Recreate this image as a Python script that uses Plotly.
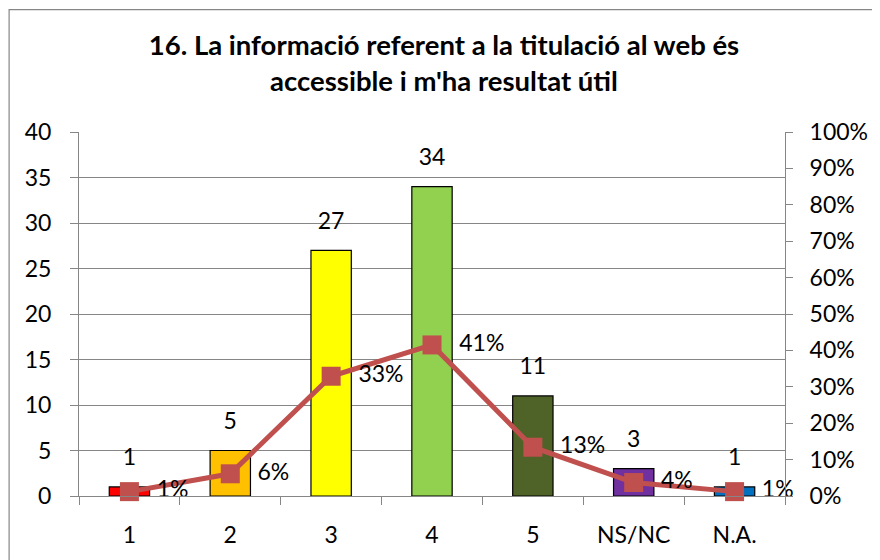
import plotly.graph_objects as go

# ---- data ----
categories = ['1', '2', '3', '4', '5', 'NS/NC', 'N.A.']
counts = [1, 5, 27, 34, 11, 3, 1]
shares = [0.012, 0.061, 0.329, 0.415, 0.134, 0.037, 0.012]
share_labels = ['1%', '6%', '33%', '41%', '13%', '4%', '1%']
bar_colors = ['#FF0000', '#FFC000', '#FFFF00', '#92D050', '#4F6228', '#7030A0', '#0070C0']

FONT = 'Lato'
GRID = '#868686'
FS = 23

fig = go.Figure()

fig.add_trace(go.Bar(
    x=categories, y=counts,
    marker=dict(color=bar_colors, line=dict(color='black', width=1.2)),
    width=0.40,
    yaxis='y', hoverinfo='x+y',
))

# count labels above the bars (invisible markers push the text up)
fig.add_trace(go.Scatter(
    x=categories, y=counts,
    mode='markers+text',
    marker=dict(size=24, opacity=0),
    text=[str(c) for c in counts], textposition='top center',
    textfont=dict(family=FONT, size=FS, color='black'),
    cliponaxis=False, hoverinfo='skip',
    yaxis='y',
))

fig.add_trace(go.Scatter(
    x=categories, y=shares,
    mode='lines+markers',
    line=dict(color='#C0504D', width=5),
    marker=dict(symbol='square', size=19, color='#C0504D'),
    cliponaxis=False,
    yaxis='y2',
))

# percentage labels right of the markers
fig.add_trace(go.Scatter(
    x=categories, y=shares,
    mode='markers+text',
    marker=dict(size=42, opacity=0),
    text=share_labels, textposition='middle right',
    textfont=dict(family=FONT, size=FS, color='black'),
    cliponaxis=False, hoverinfo='skip',
    yaxis='y2',
))

fig.update_layout(
    width=872, height=552,
    margin=dict(l=71, r=90, t=124, b=63),
    paper_bgcolor='white', plot_bgcolor='white',
    showlegend=False,
    font=dict(family=FONT, size=FS, color='black'),
    title=dict(
        text='<b>16. La informació referent a la titulació al web és<br>accessible i m\'ha resultat útil</b>',
        x=0.5, xanchor='center', y=0.914, yanchor='middle',
        font=dict(family=FONT, size=27.5, color='black'),
    ),
    xaxis=dict(
        type='category', range=[-0.5, 6.5], showgrid=False,
        showline=True, linecolor=GRID, linewidth=1,
        ticks='outside', tickson='boundaries', ticklen=8, tickcolor=GRID,
        tickfont=dict(family=FONT, size=FS),
        ticklabelstandoff=18,
    ),
    yaxis=dict(
        range=[0, 40], dtick=5,
        showgrid=True, gridcolor=GRID, gridwidth=1,
        showline=True, linecolor=GRID, linewidth=1,
        ticks='outside', ticklen=8, tickcolor=GRID,
        tickfont=dict(family=FONT, size=FS),
        ticklabelstandoff=14,
        zeroline=False,
    ),
    yaxis2=dict(
        range=[0, 1], dtick=0.1, tickformat='.0%',
        overlaying='y', side='right', showgrid=False,
        showline=True, linecolor=GRID, linewidth=1,
        ticks='outside', ticklen=7, tickcolor=GRID,
        tickfont=dict(family=FONT, size=FS),
        ticklabelstandoff=12,
        zeroline=False,
    ),
    shapes=[dict(
        type='rect', xref='paper', yref='paper',
        x0=-0.099, x1=1.3, y0=-0.3, y1=1.336,
        line=dict(color=GRID, width=1.2), layer='below',
    )],
)

fig.write_html("out.html")
